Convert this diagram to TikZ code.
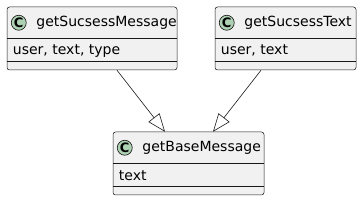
\documentclass[tikz,border=0pt]{standalone}
\usepackage{fontspec}
\setmainfont{DejaVu Sans}
\usetikzlibrary{positioning, calc, arrows.meta}

\definecolor{umlfill}{HTML}{F1F1F1}
\definecolor{umlline}{HTML}{181818}
\definecolor{umlicon}{HTML}{ADD1B2}

\begin{document}
\begin{tikzpicture}[
  x=1pt, y=1pt,
  %% class boxes
  classbox/.style={
    rectangle, draw=umlline, line width=0.5pt, rounded corners=2.5pt,
    minimum height=63pt, fill=umlfill, inner sep=0pt
  },
  %% class icon (C)
  cicon/.style={
    circle, draw=umlline, line width=0.6pt, fill=umlicon,
    minimum size=15pt, inner sep=0pt,
    font=\fontsize{13}{13}\selectfont\bfseries
  },
  %% texts
  cname/.style={anchor=west, inner sep=0pt, font=\fontsize{14}{16}\selectfont},
  cfield/.style={anchor=west, inner sep=0pt, font=\fontsize{14}{16}\selectfont},
  %% compartment lines
  sep/.style={draw=umlline, line width=0.5pt},
  %% inheritance arrows
  arr/.style={-{Triangle[open, length=18pt, width=14pt]}, draw=umlline, line width=0.6pt}
]
\useasboundingbox (0,0) rectangle (362,201);

%% ================================================================
%% CLASSES
%% ================================================================
\node[classbox, minimum width=170pt] (succmsg) at (92,162.5) {};
\node[classbox, minimum width=141pt] (succtext) at (285.5,162.5) {};
\node[classbox, minimum width=151pt] (basemsg) at (188.5,37.5) {};

%% icons, names and fields
\foreach \cls/\name/\fields in {succmsg/getSucsessMessage/{user, text, type},
                                succtext/getSucsessText/{user, text},
                                basemsg/getBaseMessage/text}{
  \node[cicon] (\cls-icon) at ($(\cls.north west)+(12,-16)$) {C};
  \node[cname] (\cls-name) at ($(\cls.north west)+(29.5,-16)$) {\name};
  \node[cfield] (\cls-fields) at ($(\cls.north west)+(6,-44)$) {\fields};
  \draw[sep] ($(\cls.north west)+(0,-32)$) -- ($(\cls.north east)+(0,-32)$);
  \draw[sep] ($(\cls.north west)+(0,-55)$) -- ($(\cls.north east)+(0,-55)$);
}

%% ================================================================
%% GENERALISATIONS
%% ================================================================
\draw[arr] ([xshift=25pt]succmsg.south) -- ([xshift=-23.5pt]basemsg.north);
\draw[arr] ([xshift=-24.5pt]succtext.south) -- ([xshift=24.5pt]basemsg.north);

\end{tikzpicture}
\end{document}
